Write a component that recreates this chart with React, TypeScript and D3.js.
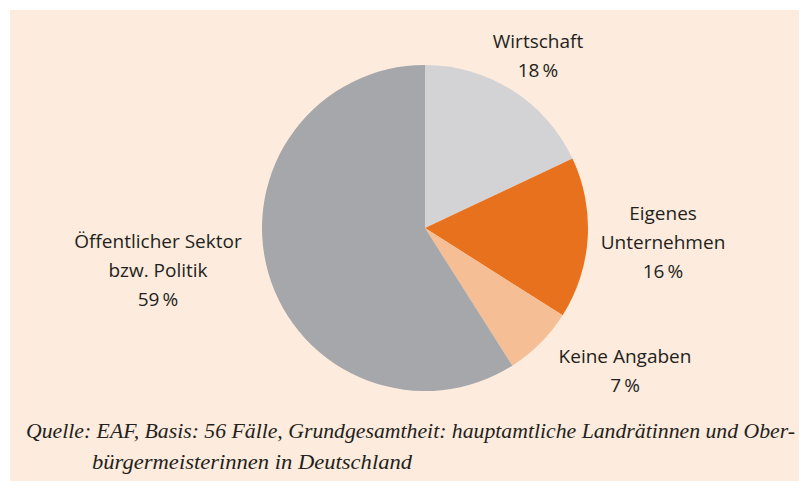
import React, { useRef, useEffect } from 'react';
import * as d3 from 'd3';

const categories = ['Wirtschaft', 'Eigenes Unternehmen', 'Keine Angaben', 'Öffentlicher Sektor bzw. Politik'];
const values = [18, 16, 7, 59];
const colors = ['#d3d3d5', '#e8711e', '#f5be95', '#a6a7aa'];
const labelLines = [
  ['Wirtschaft', '18\u2009%'],
  ['Eigenes', 'Unternehmen', '16\u2009%'],
  ['Keine Angaben', '7\u2009%'],
  ['Öffentlicher Sektor', 'bzw. Politik', '59\u2009%'],
];
const source = [
  'Quelle: EAF, Basis: 56 Fälle, Grundgesamtheit: hauptamtliche Landrätinnen und Ober-',
  'bürgermeisterinnen in Deutschland',
];

const width = 807;
const height = 489;

const App: React.FC = () => {
  const ref = useRef<SVGSVGElement | null>(null);

  useEffect(() => {
    const svg = d3.select(ref.current);
    svg.selectAll('*').remove();

    svg.append('rect')
      .attr('x', 10).attr('y', 10)
      .attr('width', width - 10).attr('height', height - 10)
      .attr('fill', '#fdebdd');

    const cx = 425, cy = 228, r = 163;
    const pie = d3.pie<number>().sort(null).value(d => d);
    const arc = d3.arc<d3.PieArcDatum<number>>().innerRadius(0).outerRadius(r);
    const g = svg.append('g').attr('transform', `translate(${cx},${cy})`);
    g.selectAll('path')
      .data(pie(values))
      .join('path')
      .attr('d', arc)
      .attr('fill', (_, i) => colors[i]);

    // label anchors (center x, first baseline)
    const labelPos = [
      [538, 48],
      [663, 220],
      [625, 363],
      [158, 248],
    ];
    labelLines.forEach((lines, i) => {
      const t = svg.append('text')
        .attr('text-anchor', 'middle')
        .attr('font-family', '"Open Sans", sans-serif')
        .attr('font-size', 19)
        .attr('fill', '#231f20')
        .attr('aria-label', categories[i]);
      lines.forEach((l, j) => {
        t.append('tspan')
          .attr('x', labelPos[i][0])
          .attr('y', labelPos[i][1] + j * 29)
          .text(l);
      });
    });

    const note = svg.append('g')
      .attr('font-family', '"Liberation Serif", serif')
      .attr('font-style', 'italic')
      .attr('font-size', 20)
      .attr('fill', '#231f20');
    note.append('text')
      .attr('x', 26).attr('y', 438)
      .attr('textLength', 769)
      .attr('lengthAdjust', 'spacingAndGlyphs')
      .text(source[0]);
    note.append('text')
      .attr('x', 92).attr('y', 469)
      .attr('textLength', 320)
      .attr('lengthAdjust', 'spacingAndGlyphs')
      .text(source[1]);
  }, []);

  return <svg ref={ref} width={width} height={height} style={{ display: 'block', margin: '-8px' }} />;
};

export default App;
